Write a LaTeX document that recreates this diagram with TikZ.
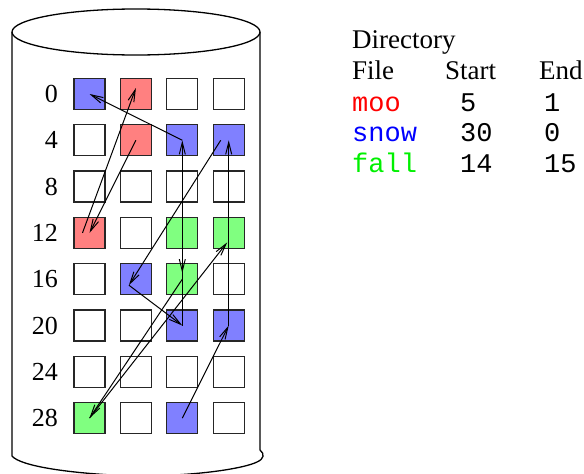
\documentclass[tikz,border=0pt]{standalone}
\usepackage{fontspec}
\setmainfont{Liberation Serif}
\setmonofont{Liberation Mono}
\usetikzlibrary{arrows.meta}
\definecolor{blockblue}{RGB}{128,128,255}
\definecolor{blockred}{RGB}{255,128,128}
\definecolor{blockgreen}{RGB}{128,255,128}
\definecolor{moored}{RGB}{255,0,0}
\definecolor{snowblue}{RGB}{0,0,255}
\definecolor{fallgreen}{RGB}{0,240,0}
\tikzset{
  block/.style={draw=black!85, line width=1.3pt, minimum size=31pt, inner sep=0pt},
  link/.style={line width=1pt, -{Straight Barb[length=12pt,width=6pt]}},
  txt/.style={anchor=base west, inner sep=0pt, font=\fontsize{27}{30}\selectfont},
  code/.style={anchor=base west, inner sep=0pt, font=\fontsize{27}{30}\selectfont\ttfamily},
}
\begin{document}
\begin{tikzpicture}[x=1pt, y=-1pt]
        \useasboundingbox (0, 0) rectangle (584, 474);
        % the disk
        \draw[line width=1.3pt] (136, 32) ellipse [x radius=124, y radius=23];
        \draw[line width=1.3pt] (12, 32) -- (12, 456) .. controls (20, 466) and (70, 474) .. (136, 476)
            .. controls (200, 476) and (245, 468) .. (257, 462) .. controls (264, 459) and (265, 454) .. (260, 450) -- (260, 32);
        % blocks, four to a row
        \foreach \row/\colours in {0/{blockblue,blockred,white,white},
                                   1/{white,blockred,blockblue,blockblue},
                                   2/{white,white,white,white},
                                   3/{blockred,white,blockgreen,blockgreen},
                                   4/{white,blockblue,blockgreen,white},
                                   5/{white,white,blockblue,blockblue},
                                   6/{white,white,white,white},
                                   7/{blockgreen,white,blockblue,white}} {
            \pgfmathtruncatemacro\first{4*\row}
            \node[anchor=east, inner sep=0pt, font=\fontsize{26}{30}\selectfont] (l\first) at (58, {94+46.3*\row}) {\first};
            \foreach \c [count=\col from 0] in \colours {
                \pgfmathtruncatemacro\n{4*\row+\col}
                \node[block, fill=\c] (b\n) at ({89.5+46.4*\col}, {94+46.3*\row}) {};
            }
        }
        % moo
        \draw[link] (b5.center) -- (b12.center);
        \draw[link] ([xshift=-7pt]b12.center) -- ([yshift=6pt]b1.center);
        % snow
        \draw[link] (b30.center) -- (b23.center);
        \draw[link] (b23.center) -- (b7.center);
        \draw[link] ([xshift=-8pt]b7.center) -- ([xshift=-7pt, yshift=-6pt]b17.center);
        \draw[link] ([xshift=-7pt, yshift=-6pt]b17.center) -- (b22.center);
        \draw[link] (b22.center) -- (b6.center);
        \draw[link] (b6.center) -- (b0.center);
        % fall
        \draw[link] (b14.center) -- ([yshift=6pt]b18.center);
        \draw[link] (b18.center) -- (b28.center);
        \draw[link] (b28.center) -- ([xshift=-1.5pt, yshift=-9.5pt]b15.center);
        % directory
        \node[txt] (dir) at (352, 48) {Directory};
        \node[txt] (hfile) at (352, 79) {File};
        \node[txt] (hstart) at (445, 79) {Start};
        \node[txt] (hend) at (539, 79) {End};
        \node[code, text=moored] (moo) at (352, 111) {moo};
        \node[code] (moostart) at (460, 111) {5};
        \node[code] (mooend) at (544, 111) {1};
        \node[code, text=snowblue] (snow) at (352, 141) {snow};
        \node[code] (snowstart) at (460, 141) {30};
        \node[code] (snowend) at (544, 141) {0};
        \node[code, text=fallgreen] (fall) at (352, 172) {fall};
        \node[code] (fallstart) at (460, 172) {14};
        \node[code] (fallend) at (544, 172) {15};
    \end{tikzpicture}
\end{document}
